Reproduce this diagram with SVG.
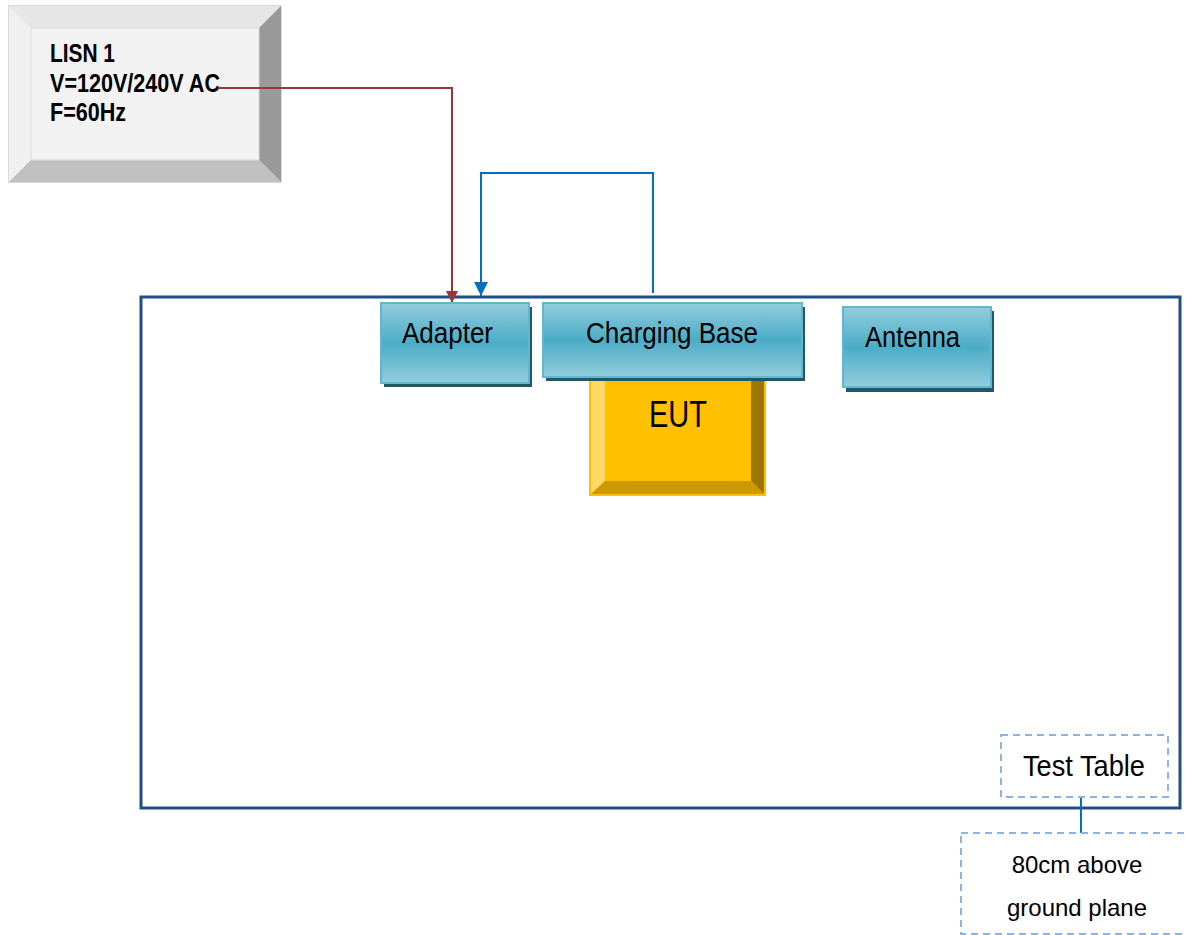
<svg xmlns="http://www.w3.org/2000/svg" width="1186" height="935" viewBox="0 0 1186 935">
<defs>
<linearGradient id="teal" x1="0" y1="0" x2="0" y2="1">
<stop offset="0" stop-color="#93cddd"/>
<stop offset="0.5" stop-color="#4bacc6"/>
<stop offset="1" stop-color="#93cddd"/>
</linearGradient>
<marker id="arrRed" viewBox="0 0 10 10" refX="10" refY="5" markerWidth="12" markerHeight="14" markerUnits="userSpaceOnUse" orient="auto">
<path d="M0,0 L10,5 L0,10 Z" fill="#953735"/>
</marker>
<marker id="arrBlue" viewBox="0 0 10 10" refX="10" refY="5" markerWidth="15" markerHeight="14" markerUnits="userSpaceOnUse" orient="auto">
<path d="M0,0 L10,5 L0,10 Z" fill="#0070c0"/>
</marker>
</defs>
<style>
.lbl{font-family:"Liberation Sans",Arial,sans-serif;fill:#000;}
.box{fill:url(#teal);stroke:#5fb8cf;stroke-width:2;}
.shadow{fill:#215868;}
.dash{fill:#fff;stroke:#8db3e2;stroke-width:2;stroke-dasharray:7 5;}
.note{font-family:"Liberation Sans",Arial,sans-serif;fill:#000;}
</style>
<rect width="1186" height="935" fill="#fff"/>

<g id="test-table">
<rect x="141" y="297" width="1039" height="511" fill="none" stroke="#244d85" stroke-width="3"/>
</g>

<g id="lisn">
<rect x="8" y="5" width="274" height="178" fill="#dcdcdc"/>
<polygon points="8,5 282,5 259,28 31,28" fill="#e6e6e6"/>
<polygon points="8,5 31,28 31,160 8,183" fill="#f0f0f0"/>
<polygon points="282,5 282,183 259,160 259,28" fill="#999999"/>
<polygon points="8,183 282,183 259,160 31,160" fill="#c0c0c0"/>
<rect x="31" y="28" width="228" height="132" fill="#f2f2f2" stroke="#dadada" stroke-width="1"/>
<rect x="8.5" y="5.5" width="273" height="177" fill="none" stroke="#dadada" stroke-width="1"/>
<text class="lbl" x="50" y="62" font-size="26" font-weight="bold" textLength="65" lengthAdjust="spacingAndGlyphs">LISN 1</text>
<text class="lbl" x="50" y="92" font-size="26" font-weight="bold" textLength="170" lengthAdjust="spacingAndGlyphs">V=120V/240V AC</text>
<text class="lbl" x="50" y="121" font-size="26" font-weight="bold" textLength="76" lengthAdjust="spacingAndGlyphs">F=60Hz</text>
</g>

<g id="connectors">
<polyline points="218,88 452,88 452,303" fill="none" stroke="#953735" stroke-width="2" marker-end="url(#arrRed)"/>
<polyline points="653,293 653,173 481,173 481,296" fill="none" stroke="#0070c0" stroke-width="2" marker-end="url(#arrBlue)"/>
<line x1="1081" y1="797" x2="1081" y2="833" stroke="#0070c0" stroke-width="2"/>
</g>

<g id="adapter">
<rect class="shadow" x="384" y="307" width="148" height="80"/>
<rect class="box" x="381" y="303" width="148" height="80"/>
<text class="lbl" x="402" y="343" font-size="29" textLength="91" lengthAdjust="spacingAndGlyphs">Adapter</text>
</g>

<g id="eut">
<rect x="589" y="377" width="177" height="119" fill="#ffc000"/>
<polygon points="589,377 605,377 605,481 589,496" fill="#ffd966"/>
<polygon points="766,377 751,377 751,481 766,496" fill="#9c7600"/>
<polygon points="589,496 766,496 751,481 605,481" fill="#cc9a00"/>
<rect x="590" y="378" width="175" height="117" fill="none" stroke="#ffc000" stroke-width="2"/>
<text class="lbl" x="649" y="427" font-size="37" textLength="58" lengthAdjust="spacingAndGlyphs">EUT</text>
</g>

<g id="charging-base">
<rect class="shadow" x="546" y="307" width="259" height="74"/>
<rect class="box" x="543" y="303" width="259" height="74"/>
<text class="lbl" x="586" y="343" font-size="29" textLength="172" lengthAdjust="spacingAndGlyphs">Charging Base</text>
</g>

<g id="antenna">
<rect class="shadow" x="846" y="311" width="148" height="81"/>
<rect class="box" x="843" y="307" width="148" height="80"/>
<text class="lbl" x="865" y="347" font-size="29" textLength="95" lengthAdjust="spacingAndGlyphs">Antenna</text>
</g>

<g id="test-table-label">
<rect class="dash" x="1001" y="735" width="167" height="62"/>
<text class="lbl" x="1023" y="776" font-size="30" textLength="122" lengthAdjust="spacingAndGlyphs">Test Table</text>
</g>

<g id="ground-plane-note">
<rect class="dash" x="961" y="833" width="240" height="101"/>
<text class="note" x="1077" y="873" font-size="24" text-anchor="middle">80cm above</text>
<text class="note" x="1077" y="916" font-size="24" text-anchor="middle">ground plane</text>
</g>
</svg>
